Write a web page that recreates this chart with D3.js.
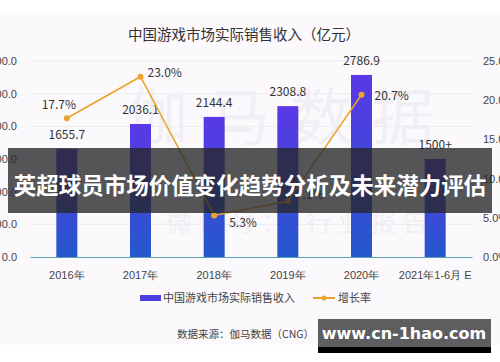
<!DOCTYPE html>
<html>
<head>
<meta charset="utf-8">
<script src="https://cdn.jsdelivr.net/npm/d3@7"></script>
<style>
  html, body { margin: 0; padding: 0; background: #fff; }
  svg { display: block; font-family: "Noto Sans CJK SC", "Noto Sans", sans-serif; }
</style>
</head>
<body>
<svg id="chart" width="500" height="362"></svg>
<script>
// chart data
const years = ['2016年', '2017年', '2018年', '2019年', '2020年', '2021年1-6月 E'];
const revenue = [1655.7, 2036.1, 2144.4, 2308.8, 2786.9, 1500];
const revenueLabels = ['1655.7', '2036.1', '2144.4', '2308.8', '2786.9', '1500+'];
const growth = [17.7, 23.0, 5.3, 7.1, 20.7];
const leftTicks = [0, 500, 1000, 1500, 2000, 2500, 3000];
const rightTicks = [0, 5, 10, 15, 20, 25];

const svg = d3.select('#chart');
const plotTop = 61, plotBottom = 257, plotLeft = 30, plotRight = 472;

// page background of the screenshot
svg.append('rect').attr('x', 0).attr('y', 13).attr('width', 500).attr('height', 332).attr('fill', '#fbf9fc');

const defs = svg.append('defs');
const grad = defs.append('linearGradient').attr('id', 'barGrad').attr('x1', 0).attr('y1', 0).attr('x2', 0).attr('y2', 1);
grad.append('stop').attr('offset', '0%').attr('stop-color', '#5a38e6');
grad.append('stop').attr('offset', '100%').attr('stop-color', '#2458cc');

const x = d3.scaleBand().domain(years).range([plotLeft, plotRight]).paddingInner(0.715).paddingOuter(0.3575);
const yL = d3.scaleLinear().domain([0, 3000]).range([plotBottom, plotTop]);
const yR = d3.scaleLinear().domain([0, 25]).range([plotBottom, plotTop]);
const cx = d => x(d) + x.bandwidth() / 2;

// faint watermark
svg.append('text').attr('x', 290).attr('y', 140).attr('text-anchor', 'middle')
  .attr('font-size', 62).attr('fill', '#f1eff3').attr('letter-spacing', 20).text('伽马数据');
svg.append('text').attr('x', 300).attr('y', 232).attr('text-anchor', 'middle')
  .attr('font-size', 26).attr('fill', '#f1eff3').attr('letter-spacing', 6).text('微信号：  行业报告');

// grid lines
svg.append('g').selectAll('line').data(leftTicks.slice(1)).join('line')
  .attr('x1', plotLeft).attr('x2', plotRight).attr('y1', d => yL(d)).attr('y2', d => yL(d))
  .attr('stroke', '#ecebef').attr('stroke-width', 1);

// title
svg.append('text').attr('x', 244).attr('y', 40).attr('text-anchor', 'middle')
  .attr('font-size', 14.5).attr('fill', '#333').text('中国游戏市场实际销售收入（亿元）');

// left axis
const axL = d3.axisLeft(yL).tickValues(leftTicks).tickFormat(d3.format('.1f')).tickSize(0).tickPadding(0);
svg.append('g').attr('transform', 'translate(17,0)').call(axL)
  .call(g => g.select('.domain').remove())
  .call(g => g.selectAll('text').attr('font-size', 11).attr('fill', '#444').attr('font-family', null));

// right axis
const axR = d3.axisRight(yR).tickValues(rightTicks).tickFormat(d => d3.format('.1f')(d) + '%').tickSize(0).tickPadding(0);
svg.append('g').attr('transform', 'translate(483,0)').call(axR)
  .call(g => g.select('.domain').remove())
  .call(g => g.selectAll('text').attr('font-size', 11).attr('fill', '#444').attr('font-family', null));

// bars
svg.append('g').selectAll('rect').data(revenue).join('rect')
  .attr('x', (d, i) => x(years[i])).attr('width', x.bandwidth())
  .attr('y', d => yL(d)).attr('height', d => plotBottom - yL(d))
  .attr('fill', 'url(#barGrad)');

svg.append('g').selectAll('text').data(revenue).join('text')
  .attr('x', (d, i) => cx(years[i])).attr('y', d => yL(d) - 10)
  .attr('text-anchor', 'middle').attr('font-size', 12).attr('fill', '#333')
  .text((d, i) => revenueLabels[i]);

// x axis
const axX = d3.axisBottom(x).tickSize(0).tickPadding(14);
svg.append('g').attr('transform', `translate(0,${plotBottom})`).call(axX)
  .call(g => g.select('.domain').attr('stroke', '#5aa0b8').attr('stroke-width', 1.2))
  .call(g => g.selectAll('text').attr('font-size', 11).attr('fill', '#444').attr('font-family', null));

// growth line
const line = d3.line().x((d, i) => cx(years[i])).y(d => yR(d));
svg.append('path').datum(growth).attr('d', line)
  .attr('fill', 'none').attr('stroke', '#eaa530').attr('stroke-width', 1.6);
svg.append('g').selectAll('circle').data(growth).join('circle')
  .attr('cx', (d, i) => cx(years[i])).attr('cy', d => yR(d)).attr('r', 3)
  .attr('fill', '#eaa530');

const labelOff = [[-8, -9, 'middle'], [7, 0, 'start'], [15, 12, 'start'], [8, -2, 'start'], [13, 5, 'start']];
svg.append('g').selectAll('text').data(growth).join('text')
  .attr('x', (d, i) => cx(years[i]) + labelOff[i][0])
  .attr('y', (d, i) => yR(d) + labelOff[i][1])
  .attr('text-anchor', (d, i) => labelOff[i][2])
  .attr('font-size', 12).attr('fill', '#333')
  .text(d => d.toFixed(1) + '%');

// legend
svg.append('rect').attr('x', 140).attr('y', 295).attr('width', 21).attr('height', 6).attr('fill', '#4a3ee0');
svg.append('text').attr('x', 163).attr('y', 302).attr('font-size', 11).attr('fill', '#444').text('中国游戏市场实际销售收入');
svg.append('line').attr('x1', 313).attr('x2', 335).attr('y1', 298).attr('y2', 298).attr('stroke', '#eaa530').attr('stroke-width', 2);
svg.append('circle').attr('cx', 324).attr('cy', 298).attr('r', 2.5).attr('fill', '#eaa530');
svg.append('text').attr('x', 338).attr('y', 302).attr('font-size', 11).attr('fill', '#444').text('增长率');

// source
svg.append('text').attr('x', 177).attr('y', 338).attr('font-size', 10.5).attr('fill', '#444').text('数据来源：伽马数据（CNG）');

// overlay banner
svg.append('rect').attr('x', 8).attr('y', 148).attr('width', 484).attr('height', 65).attr('fill', 'rgba(38,38,40,0.78)');
svg.append('text').attr('x', 250).attr('y', 194).attr('text-anchor', 'middle')
  .attr('font-size', 22.5).attr('font-weight', 'bold').attr('fill', '#fff')
  .text('英超球员市场价值变化趋势分析及未来潜力评估');

// site watermark box
svg.append('rect').attr('x', 318).attr('y', 347).attr('width', 173).attr('height', 6).attr('fill', '#000');
svg.append('rect').attr('x', 318).attr('y', 319).attr('width', 173).attr('height', 28).attr('fill', '#5e5d60');
svg.append('text').attr('x', 404).attr('y', 339).attr('text-anchor', 'middle')
  .attr('font-size', 16).attr('font-weight', 'bold').attr('fill', '#fff')
  .attr('font-family', 'DejaVu Sans, sans-serif').text('www.cn-1hao.com');
</script>
</body>
</html>
